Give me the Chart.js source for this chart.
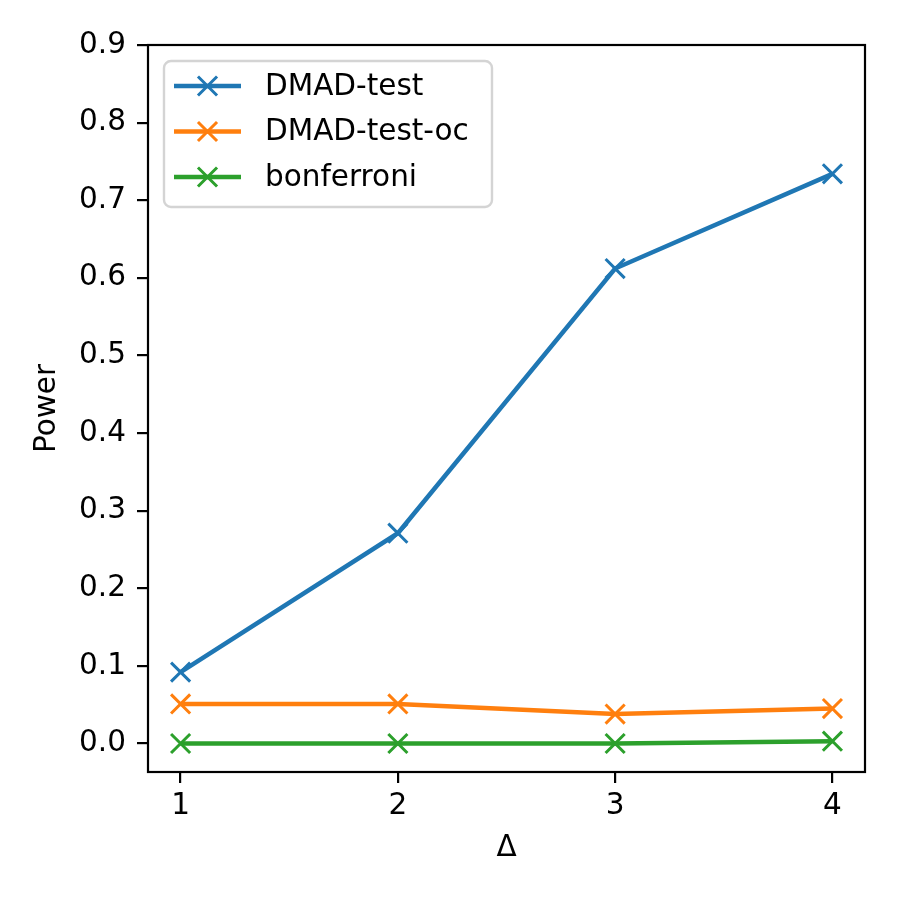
<!DOCTYPE html>
<html>
<head>
<meta charset="utf-8">
<script src="https://cdn.jsdelivr.net/npm/chart.js@4"></script>
<style>
  html, body { margin: 0; padding: 0; background: #fff; }
  #wrap { width: 900px; height: 900px; }
</style>
</head>
<body>
<div id="wrap"><canvas id="powerChart" width="900" height="900"></canvas></div>
<script>
// Dữ liệu
const deltas = [1, 2, 3, 4];
const dmadTest = [0.092, 0.271, 0.612, 0.734];
const dmadTestOc = [0.051, 0.051, 0.038, 0.045];
const bonferroni = [0.0, 0.0, 0.0, 0.003];
const yTicks = [0, 0.1, 0.2, 0.3, 0.4, 0.5, 0.6, 0.7, 0.8, 0.9];
const xTicks = [1, 2, 3, 4];

const FONT = "'DejaVu Sans', sans-serif";
const FS = 29.5;
const LINE_W = 4.5;
const MARK_R = 13.5;
const MARK_W = 3;

function toPoints(values) {
    return deltas.map((d, i) => ({ x: d, y: values[i] }));
}

function makeSet(label, values, color) {
    return {
        label,
        data: toPoints(values),
        borderColor: color,
        backgroundColor: color,
        borderWidth: LINE_W,
        pointStyle: 'crossRot',
        pointRadius: MARK_R,
        pointBorderWidth: MARK_W,
        pointHoverRadius: MARK_R,
        fill: false,
        tension: 0,
    };
}

// Khung trục và legend kiểu matplotlib
const framePlugin = {
    id: 'frame',
    afterDraw(chart) {
        const { ctx, chartArea: a } = chart;
        ctx.save();
        ctx.strokeStyle = '#000';
        ctx.lineWidth = 2.2;
        ctx.strokeRect(a.left, a.top, a.right - a.left, a.bottom - a.top);

        // legend
        const bx = 164, by = 61, bw = 328, bh = 146, r = 7;
        ctx.fillStyle = 'rgba(255,255,255,0.8)';
        ctx.strokeStyle = '#d4d4d4';
        ctx.lineWidth = 2.4;
        ctx.beginPath();
        ctx.roundRect(bx, by, bw, bh, r);
        ctx.fill();
        ctx.stroke();

        chart.data.datasets.forEach((ds, i) => {
            const y = 86 + i * 45.5;
            ctx.strokeStyle = ds.borderColor;
            ctx.lineWidth = LINE_W;
            ctx.beginPath();
            ctx.moveTo(174, y);
            ctx.lineTo(241, y);
            ctx.stroke();
            const cx = 207.5, s = MARK_R * 0.7071;
            ctx.lineWidth = MARK_W;
            ctx.beginPath();
            ctx.moveTo(cx - s, y - s); ctx.lineTo(cx + s, y + s);
            ctx.moveTo(cx - s, y + s); ctx.lineTo(cx + s, y - s);
            ctx.stroke();
            ctx.fillStyle = '#000';
            ctx.font = `${FS}px ${FONT}`;
            ctx.textBaseline = 'middle';
            ctx.textAlign = 'left';
            ctx.fillText(ds.label, 265, y + 1);
        });
        ctx.restore();
    }
};

const ctx = document.getElementById('powerChart').getContext('2d');
new Chart(ctx, {
    type: 'line',
    data: {
        datasets: [
            makeSet('DMAD-test', dmadTest, '#1f77b4'),
            makeSet('DMAD-test-oc', dmadTestOc, '#ff7f0e'),
            makeSet('bonferroni', bonferroni, '#2ca02c'),
        ],
    },
    options: {
        responsive: false,
        animation: false,
        devicePixelRatio: 1,
        layout: { padding: { top: 45, right: 35, left: 0, bottom: 0 } },
        plugins: { legend: { display: false }, tooltip: { enabled: false } },
        scales: {
            x: {
                type: 'linear',
                min: 0.85,
                max: 4.15,
                afterBuildTicks: (s) => { s.ticks = xTicks.map(v => ({ value: v })); },
                afterFit: (s) => { s.height = 128; },
                ticks: {
                    color: '#000',
                    font: { family: FONT, size: FS },
                    padding: 6,
                    maxRotation: 0,
                    callback: (v) => String(v),
                },
                grid: { drawOnChartArea: false, drawTicks: true, tickLength: 11, color: '#000', lineWidth: 2.2 },
                border: { display: false },
                title: {
                    display: true,
                    text: 'Δ',
                    color: '#000',
                    font: { family: FONT, size: FS },
                    padding: { top: 0, bottom: 34 },
                },
            },
            y: {
                type: 'linear',
                min: -0.0367,
                max: 0.9,
                afterBuildTicks: (s) => { s.ticks = yTicks.map(v => ({ value: v })); },
                afterFit: (s) => { s.width = 148; },
                ticks: {
                    color: '#000',
                    font: { family: FONT, size: FS },
                    padding: 11,
                    callback: (v) => Number(v).toFixed(1),
                },
                grid: { drawOnChartArea: false, drawTicks: true, tickLength: 11, color: '#000', lineWidth: 2.2 },
                border: { display: false },
                title: {
                    display: true,
                    text: 'Power',
                    color: '#000',
                    font: { family: FONT, size: FS },
                    padding: { top: 30, bottom: 0 },
                },
            },
        },
    },
    plugins: [framePlugin],
});
</script>
</body>
</html>
